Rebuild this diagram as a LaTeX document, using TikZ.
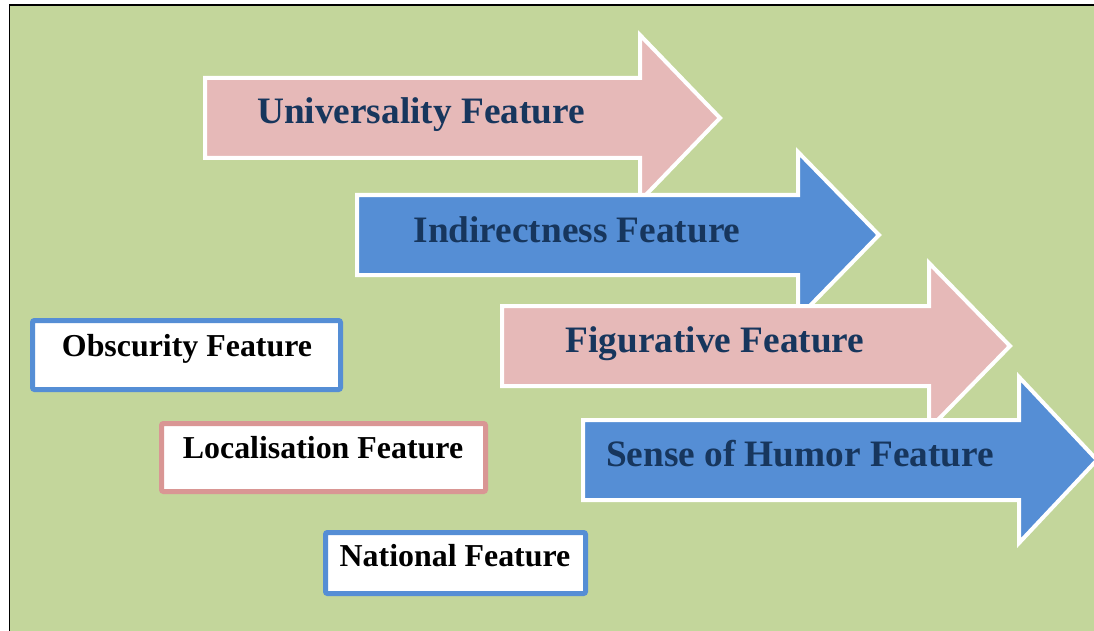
\documentclass[tikz,border=0pt]{standalone}
\usepackage{fontspec}
\setmainfont{Liberation Serif}
\definecolor{bggreen}{HTML}{C3D69B}
\definecolor{arrpink}{HTML}{E6B9B8}
\definecolor{arrblue}{HTML}{558ED5}
\definecolor{boxpink}{HTML}{D99694}
\definecolor{navy}{HTML}{17365D}
\tikzset{
  arrowlabel/.style={font=\fontsize{37.3}{40}\selectfont\bfseries, text=navy, anchor=base, inner sep=0pt},
  boxlabel/.style={font=\fontsize{31.9}{34}\selectfont\bfseries, text=black, anchor=base, inner sep=0pt},
  featbox/.style={draw=#1, line width=5pt, fill=white, rounded corners=2pt, inner sep=0pt},
  arrowfill/.style={fill=#1, draw=white, line width=4pt, line join=miter}
}
% #1 style colour, #2 left x, #3 head base x, #4 tip x, #5 centre y
\newcommand{\fatarrow}[5]{%
  \path[arrowfill=#1] (#2,#5-40) -- (#3,#5-40) -- (#3,#5-83) -- (#4,#5) -- (#3,#5+83) -- (#3,#5+40) -- (#2,#5+40) -- cycle;}
\begin{document}
\begin{tikzpicture}[x=1pt,y=-1pt]
\useasboundingbox (0,0) rectangle (1094,631);
\fill[white] (0,0) rectangle (1094,631);
\fill[bggreen] (10,5) rectangle (1094,631);
\draw[black, line width=1.5pt] (9.5,631) -- (9.5,5) -- (1094,5);
% arrows
\fatarrow{arrpink}{205}{640}{720}{118}
\node[arrowlabel] (univ) at (421,124) {Universality Feature};
\fatarrow{arrblue}{357}{798}{879}{235}
\node[arrowlabel] (indir) at (577,242) {Indirectness Feature};
\fatarrow{arrpink}{502}{929}{1010}{346}
\node[arrowlabel] (figur) at (715,352) {Figurative Feature};
\fatarrow{arrblue}{583}{1019}{1097}{460}
\node[arrowlabel] (humor) at (800,466) {Sense of Humor Feature};
% boxes
\node[featbox=arrblue, minimum width=308pt, minimum height=69pt] (obsbox) at (186.5,355) {};
\node[boxlabel] (obs) at (187,356) {Obscurity Feature};
\node[featbox=boxpink, minimum width=324pt, minimum height=68pt] (locbox) at (323.5,457.5) {};
\node[boxlabel] (loc) at (323,458) {Localisation Feature};
\node[featbox=arrblue, minimum width=260pt, minimum height=61pt] (natbox) at (455.5,563) {};
\node[boxlabel] (nat) at (455,566) {National Feature};
\end{tikzpicture}
\end{document}
